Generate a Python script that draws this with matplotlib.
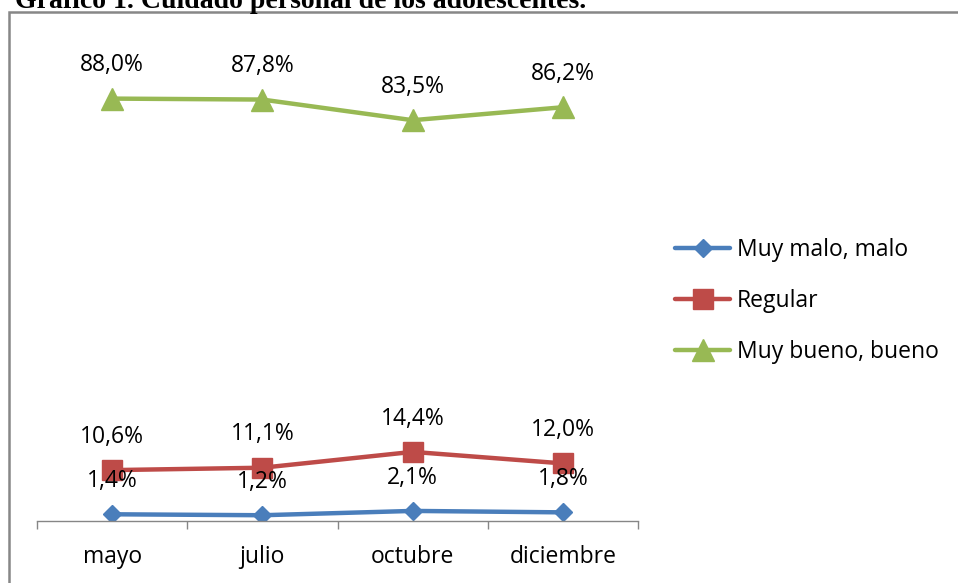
import matplotlib
matplotlib.use('Agg')
import matplotlib.pyplot as plt
from matplotlib.patches import Rectangle

months = ['mayo', 'julio', 'octubre', 'diciembre']
muy_malo = [1.4, 1.2, 2.1, 1.8]
regular = [10.6, 11.1, 14.4, 12.0]
muy_bueno = [88.0, 87.8, 83.5, 86.2]
series_names = ['Muy malo, malo', 'Regular', 'Muy bueno, bueno']

plt.rcParams['font.family'] = ['Open Sans', 'DejaVu Sans']

fig = plt.figure(figsize=(9.58, 5.83), dpi=100)
ax = fig.add_axes([37/958, 62/583, 601/958, 480/583])

x = range(len(months))
styles = [
    (muy_malo, '#4A7EBB', 'D', 9.5),
    (regular, '#BE4B48', 's', 14),
    (muy_bueno, '#98B954', '^', 16),
]
for (vals, col, mk, ms), name in zip(styles, series_names):
    ax.plot(x, vals, color=col, lw=3.2, marker=mk, markersize=ms,
            markeredgecolor=col, label=name, solid_capstyle='round')
    for xi, v in zip(x, vals):
        ax.annotate(('%.1f%%' % v).replace('.', ','), (xi, v),
                    xytext=(0, 24), textcoords='offset points',
                    ha='center', va='center', fontsize=16.5)

ax.set_xlim(-0.5, 3.5)
ax.set_ylim(0, 100)
ax.set_xticks(x)
ax.set_xticklabels(months, fontsize=16.5)
ax.set_xticks([-0.5, 0.5, 1.5, 2.5, 3.5], minor=True)
ax.tick_params(axis='x', which='major', length=0, pad=17)
ax.tick_params(axis='x', which='minor', length=6, color='#868686', width=1)
ax.set_yticks([])
for s in ['top', 'right', 'left']:
    ax.spines[s].set_visible(False)
ax.spines['bottom'].set_color('#868686')
ax.spines['bottom'].set_linewidth(1)
ax.patch.set_alpha(0)

fig.legend(loc='center left', bbox_to_anchor=(675/958, 1 - 301/583),
           frameon=False, fontsize=16.5, handlelength=2.4, handletextpad=0.3,
           labelspacing=1.18, borderpad=0, borderaxespad=0)

# outer frame and cropped title
fig.patches.append(Rectangle((9/958, -0.05), 1.2, 1 - 12/583 + 0.05,
                             transform=fig.transFigure, fill=False,
                             edgecolor='#878787', lw=1.8))
fig.text(15/958, 1 - 8/583, 'Gráfico 1. Cuidado personal de los adolescentes.',
         family='Liberation Serif', fontweight='bold', fontsize=20,
         ha='left', va='baseline')

fig.savefig('out.png', dpi=100)
